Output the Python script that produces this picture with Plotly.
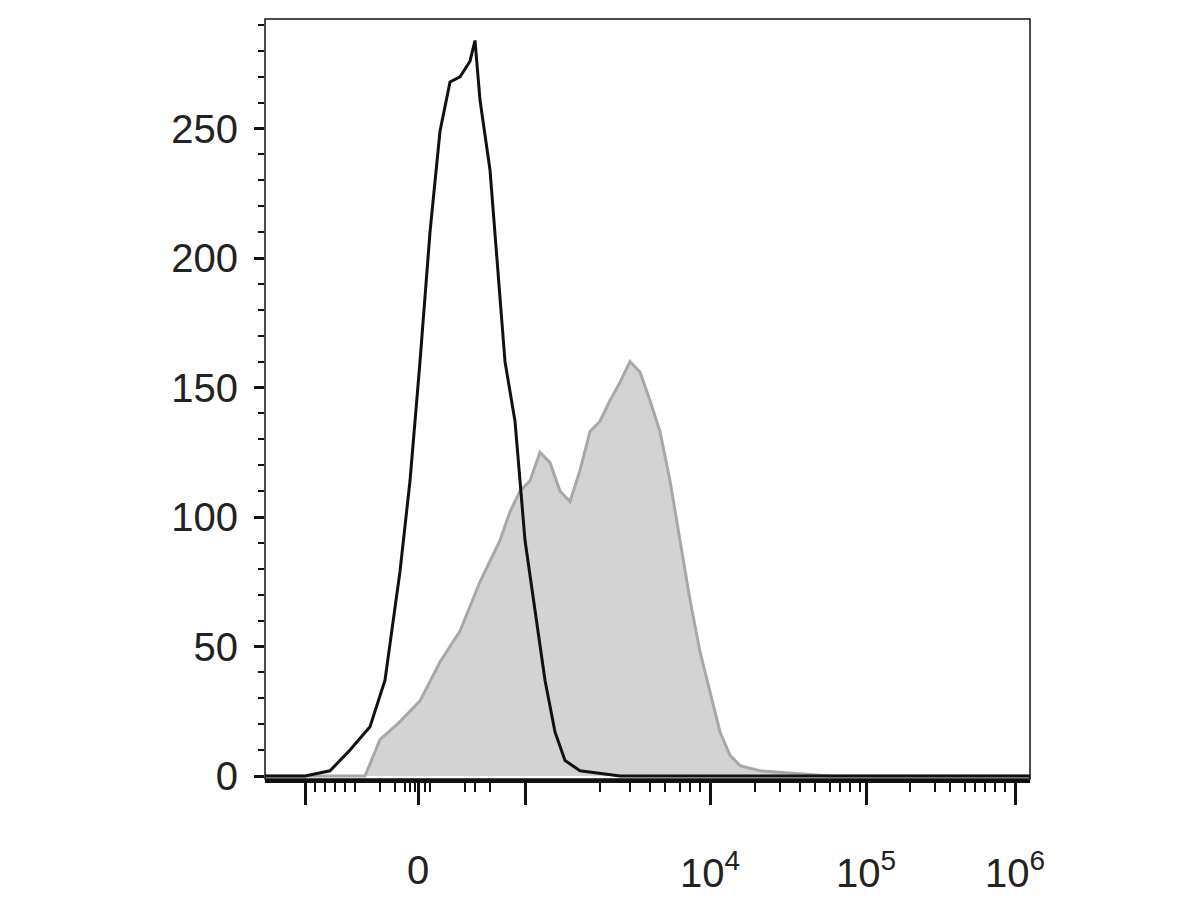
import plotly.graph_objects as go

# x values are display channels on the biexponential scale
ctrl_x = [265,305,330,350,370,385,400,410,420,430,440,450,460,470,475,480,490,495,500,505,515,525,535,545,555,565,580,600,620,1030]
ctrl_y = [0,0,2,10,19,37,79,114,160,210,249,268,270,276,284,261,234,210,183,160,137,91,64,37,17,6,2,1,0,0]

stain_x = [265,365,380,400,420,440,460,480,500,510,520,530,540,550,560,570,580,590,600,610,620,630,640,650,660,670,680,690,700,710,720,730,740,760,800,830,1030]
stain_y = [0,0,14,21,29,44,56,75,91,102,110,114,125,121,110,106,118,133,137,145,152,160,156,145,133,114,91,68,48,33,17,8,4,2,1,0,0]

major_x = [305,418,525,710,866,1015]
minor_x = [315,325,335,345,355,380,395,405,410,415,425,430,465,475,490,600,630,650,665,680,690,700,755,780,800,815,830,840,850,860,910,935,950,965,975,985,995,1005]
label_x = [418,710,866,1015]
label_txt = ["0","10<sup>4</sup>","10<sup>5</sup>","10<sup>6</sup>"]

FONT = dict(size=40, family="Liberation Sans, Arial", color="#222")

fig = go.Figure()
fig.add_trace(go.Scatter(x=stain_x, y=stain_y, mode="lines", fill="tozeroy",
                         line=dict(color="#a8a8a8", width=3), fillcolor="#d3d3d3"))
fig.add_trace(go.Scatter(x=ctrl_x, y=ctrl_y, mode="lines", line=dict(color="#111111", width=3)))
fig.add_trace(go.Scatter(x=[265], y=[0], xaxis="x2", mode="markers", marker=dict(opacity=0), hoverinfo="skip"))

fig.update_layout(
    width=1200, height=900, plot_bgcolor="white", paper_bgcolor="white",
    showlegend=False, margin=dict(l=257, r=178, t=11, b=129),
    font=FONT,
    xaxis=dict(range=[265,1030], tickvals=major_x, ticktext=[""]*len(major_x),
               ticks="outside", ticklen=22, tickwidth=3, tickcolor="#111",
               showgrid=False, zeroline=False, showline=True, linecolor="#111", linewidth=4, mirror=False),
    xaxis2=dict(range=[265,1030], overlaying="x", side="bottom", tickvals=minor_x, ticktext=[""]*len(minor_x),
                ticks="outside", ticklen=12, tickwidth=2, tickcolor="#111", showgrid=False, zeroline=False,
                showline=False),
    yaxis=dict(range=[-1.16,292.3], tickvals=[0,50,100,150,200,250], ticks="outside", ticklen=10,
               tickwidth=3, tickcolor="#111", showgrid=False, zeroline=False,
               tickfont=FONT,
               minor=dict(dtick=10, ticks="outside", ticklen=6, tickwidth=1.5, tickcolor="#111"),
               ticklabelstandoff=8),
    shapes=[dict(type="rect", xref="paper", yref="paper", x0=0, x1=1, y0=0, y1=1,
                 line=dict(color="#111", width=1.5))],
)
for x, t in zip(label_x, label_txt):
    fig.add_annotation(x=x, y=-0.12, xref="x", yref="paper", text=t, showarrow=False,
                       font=FONT, yanchor="middle")
fig.write_html("out.html")
